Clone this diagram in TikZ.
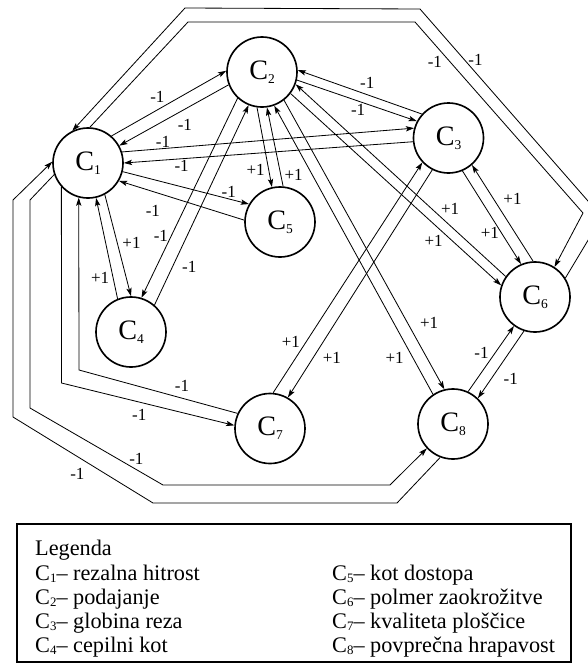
\documentclass[tikz,border=0pt]{standalone}
\usepackage{fontspec}
\setmainfont{Liberation Serif}
\usetikzlibrary{arrows.meta}

% node text with lowered index
\newcommand{\cnum}[1]{C\raisebox{-3.5pt}{\fontsize{11.5}{11.5}\selectfont #1}}
\newcommand{\legc}[1]{C\raisebox{-2.5pt}{\fontsize{11}{11}\selectfont #1}}

\tikzset{
  cnode/.style={circle, draw, line width=1.4pt, minimum size=2.1cm, inner sep=0pt,
    font=\fontsize{24}{24}\selectfont},
  link/.style={-{Stealth[length=7pt,width=4.5pt,inset=1.5pt]}, line width=0.7pt},
  lbl/.style={font=\fontsize{14.5}{14.5}\selectfont, inner sep=1pt},
  legtext/.style={anchor=base west, inner sep=0pt, font=\fontsize{19}{19}\selectfont}
}

\begin{document}
\begin{tikzpicture}[x=0.03cm, y=-0.03cm]
    \useasboundingbox (0,0) rectangle (588,664);
    \clip (0,0) rectangle (588,664);

    \node[cnode] (C1) at (88,163) {\cnum{1}};
    \node[cnode] (C2) at (262,72) {\cnum{2}};
    \node[cnode] (C3) at (448.5,138) {\cnum{3}};
    \node[cnode] (C4) at (131,332) {\cnum{4}};
    \node[cnode] (C5) at (280,222) {\cnum{5}};
    \node[cnode] (C6) at (535,297) {\cnum{6}};
    \node[cnode] (C7) at (270,428.5) {\cnum{7}};
    \node[cnode] (C8) at (453,424) {\cnum{8}};

    % C1 - C2
    \draw[link] (C1.49) -- node[lbl, pos=.4, above=5pt] {-1} (C2.178);
    \draw[link] (C2.201) -- node[lbl, pos=.4, below=7pt] {-1} (C1.29);
    % C1 - C3
    \draw[link] (C1.18) -- node[lbl, pos=.14, above] {-1} (C3.164);
    \draw[link] (C3.186) -- node[lbl, pos=.8, below] {-1} (C1.0);
    % C1 - C5
    \draw[link] (C1.346) -- node[lbl, pos=.84, above] {-1} (C5.150);
    \draw[link] (C5.177) -- node[lbl, pos=.73, below=10pt] {-1} (C1.330);
    % C1 - C4
    \draw[link] (C1.298) -- node[lbl, pos=.48, right=3pt] {+1} (C4.90);
    \draw[link] (C4.112) -- node[lbl, pos=.21, left=2pt] {+1} (C1.283);
    % C2 - C4
    \draw[link] (C2.227) -- node[lbl, pos=.69, left=1.5pt] {-1} (C4.73);
    \draw[link] (C4.49) -- node[lbl, pos=.19, right=7pt] {-1} (C2.248);
    % C2 - C5
    \draw[link] (C2.262) -- node[lbl, pos=.78, left=2pt] {+1} (C5.103);
    \draw[link] (C5.85) -- node[lbl, pos=.15, right=2pt] {+1} (C2.278);
    % C2 - C3
    \draw[link] (C3.138) -- node[lbl, pos=.44, above=4pt] {-1} (C2.3);
    \draw[link] (C2.347) -- node[lbl, pos=.51, below=1.5pt] {-1} (C3.152);
    % C2 - C6
    \draw[link] (C6.145) -- node[lbl, pos=.315, above right] {+1} (C2.340);
    \draw[link] (C2.323) -- node[lbl, pos=.73, below left] {+1} (C6.161);
    % C2 - C8
    \draw[link] (C2.308) -- node[lbl, pos=.81, above right=4pt] {+1} (C8.104);
    \draw[link] (C8.124) -- node[lbl, pos=.16, below left=2pt] {+1} (C2.290);
    % C3 - C6
    \draw[link] (C3.293) -- node[lbl, pos=.61, below left=-2pt] {+1} (C6.113);
    \draw[link] (C6.93) -- node[lbl, pos=.55, above right=2pt] {+1} (C3.311);
    % C3 - C7
    \draw[link] (C7.85) -- node[lbl, pos=.19, above left] {+1} (C3.223);
    \draw[link] (C3.243) -- node[lbl, pos=.785, below right=2pt] {+1} (C7.60);
    % C6 - C8
    \draw[link] (C8.65) -- node[lbl, pos=.48, above left] {-1} (C6.234);
    \draw[link] (C6.252) -- node[lbl, pos=.55, below right=3pt] {-1} (C8.46);

    % C1 - C6 round the top
    \draw[link] (C1.87) -- (188,22) -- (415,22) -- node[lbl, pos=.17, below left] {-1} (583,213) -- (C6.57);
    \draw[link] (C6.32) -- (602,217) -- node[lbl, pos=.73, above right=-2pt] {-1} (420,9) -- (185,8) -- (C1.116);
    % C1 - C7 on the left
    \draw[link] (C1.222) -- (61.5,383) -- node[lbl, pos=.45, below=5pt] {-1} (C7.175);
    \draw[link] (C7.155) -- node[lbl, pos=.35, above=4pt] {-1} (79,370) -- (C1.255);
    % C1 - C8 round the bottom
    \draw[link] (C1.199) -- (30,200) -- (30,408) -- node[lbl, pos=.8, above=3pt] {-1} (163,485) -- (390,485) -- (C8.223);
    \draw[link] (C8.249) -- (397,503) -- (153,503) -- node[lbl, pos=.54, below=9pt] {-1} (13,417) -- (13,200) -- (C1.178);

    % legend
    \draw[line width=1.6pt] (17,524) rectangle (571,662);
    \node[legtext] (leg) at (35,555) {Legenda};
    \node[legtext] (l1) at (35,580) {\legc{1}– rezalna hitrost};
    \node[legtext] (l2) at (35,604) {\legc{2}– podajanje};
    \node[legtext] (l3) at (35,628) {\legc{3}– globina reza};
    \node[legtext] (l4) at (35,652) {\legc{4}– cepilni kot};
    \node[legtext] (l5) at (332,580) {\legc{5}– kot dostopa};
    \node[legtext] (l6) at (332,604) {\legc{6}– polmer zaokrožitve};
    \node[legtext] (l7) at (332,628) {\legc{7}– kvaliteta ploščice};
    \node[legtext] (l8) at (332,652) {\legc{8}– povprečna hrapavost};
\end{tikzpicture}
\end{document}
